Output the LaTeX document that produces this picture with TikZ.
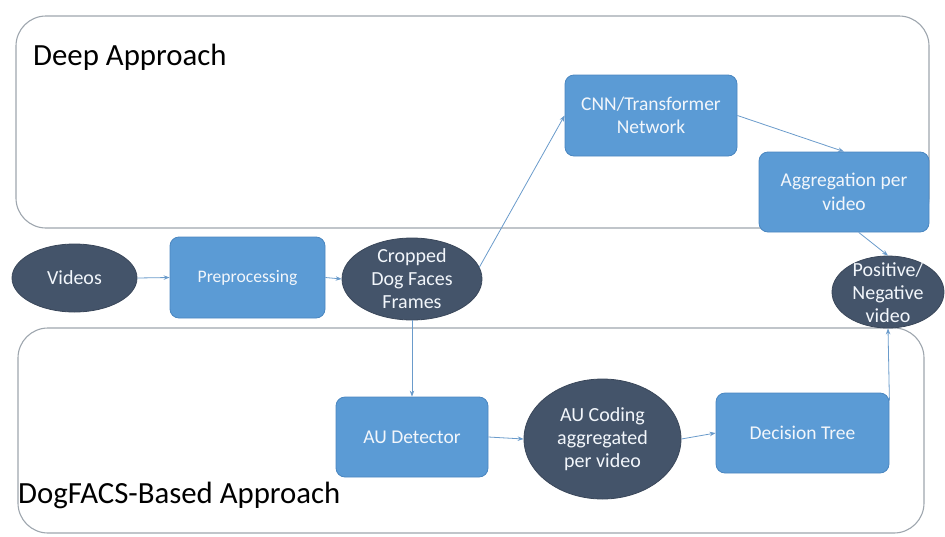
\documentclass[tikz,border=0pt]{standalone}
\usepackage{fontspec}
\setmainfont{Carlito}
\usetikzlibrary{shapes.geometric,arrows.meta,calc}
\definecolor{boxblue}{HTML}{5B9BD5}
\definecolor{boxedge}{HTML}{4A86C0}
\definecolor{darkell}{HTML}{44546A}
\definecolor{arrowc}{HTML}{6A9BCB}
\definecolor{framec}{HTML}{9EA6AE}
\definecolor{lighttext}{HTML}{F2F6FB}
\begin{document}
\begin{tikzpicture}[x=1pt,y=-1pt,
 container/.style={draw=framec, line width=1.1pt, rounded corners=30pt},
 bluebox/.style={draw=boxedge, fill=boxblue, rounded corners=9pt, text=lighttext,
   font=\fontsize{19.5}{23.5}\selectfont, align=center, inner sep=0pt, line width=0.8pt},
 darkoval/.style={ellipse, draw=darkell!85!black, fill=darkell, inner sep=0pt, line width=0.8pt},
 ovaltext/.style={text=lighttext, font=\fontsize{20}{23}\selectfont, align=center, inner sep=0pt},
 conn/.style={draw=arrowc, line width=0.8pt, -{Stealth[length=6pt,width=4.5pt]}},
 titletext/.style={font=\fontsize{30.8}{36}\selectfont, anchor=base west, inner sep=0pt}]

\useasboundingbox (0,0) rectangle (945,536);
\draw[container] (16,16) rectangle (929,228);
\draw[container] (18,328) rectangle (924,533);

\node[titletext] (deep) at (33,65) {Deep Approach};
\node[titletext] (dogfacs) at (18,503) {DogFACS-Based Approach};

% nodes
\node[darkoval, minimum width=125pt, minimum height=68pt] (videos) at (74.5,278) {};
\node[ovaltext] (videosT) at (videos) {Videos};

\node[bluebox, minimum width=155pt, minimum height=81pt, font=\fontsize{17.6}{21}\selectfont] (prep) at (247.5,277.5) {Preprocessing};

\node[darkoval, minimum width=140pt, minimum height=82pt] (crop) at (412,279) {};
\node[ovaltext] (cropT) at (crop) {Cropped\\Dog Faces\\Frames};

\node[bluebox, minimum width=172pt, minimum height=81pt] (cnn) at (651,115.5) {CNN/Transformer\\Network};
\node[bluebox, minimum width=170pt, minimum height=80pt] (agg) at (844,192) {Aggregation per\\video};

\node[darkoval, minimum width=112pt, minimum height=72pt] (pos) at (888,292) {};
\node[ovaltext] (posT) at (888,293) {Positive/\\Negative\\video};

\node[bluebox, minimum width=152pt, minimum height=80pt] (au) at (412,437) {AU Detector};
\node[darkoval, minimum width=157pt, minimum height=120pt] (cod) at (602.5,439) {};
\node[ovaltext] (codT) at (cod) {AU Coding\\aggregated\\per video};
\node[bluebox, minimum width=173pt, minimum height=80pt] (dt) at (802.5,433) {Decision Tree};

% connectors
\draw[conn] (videos.east) -- (prep.west);
\draw[conn] (prep.east) -- (crop.west);
\draw[conn] (crop.10) -- (cnn.west);
\draw[conn] (cnn.east) -- (agg.north);
\draw[conn] (agg.-70) -- (pos.north);
\draw[conn] (crop.south) -- (au.north);
\draw[conn] (au.east) -- (cod.west);
\draw[conn] (cod.east) -- (dt.west);
\draw[conn] ($(dt.north east)+(0,8)$) -- (pos.south);
\end{tikzpicture}
\end{document}
